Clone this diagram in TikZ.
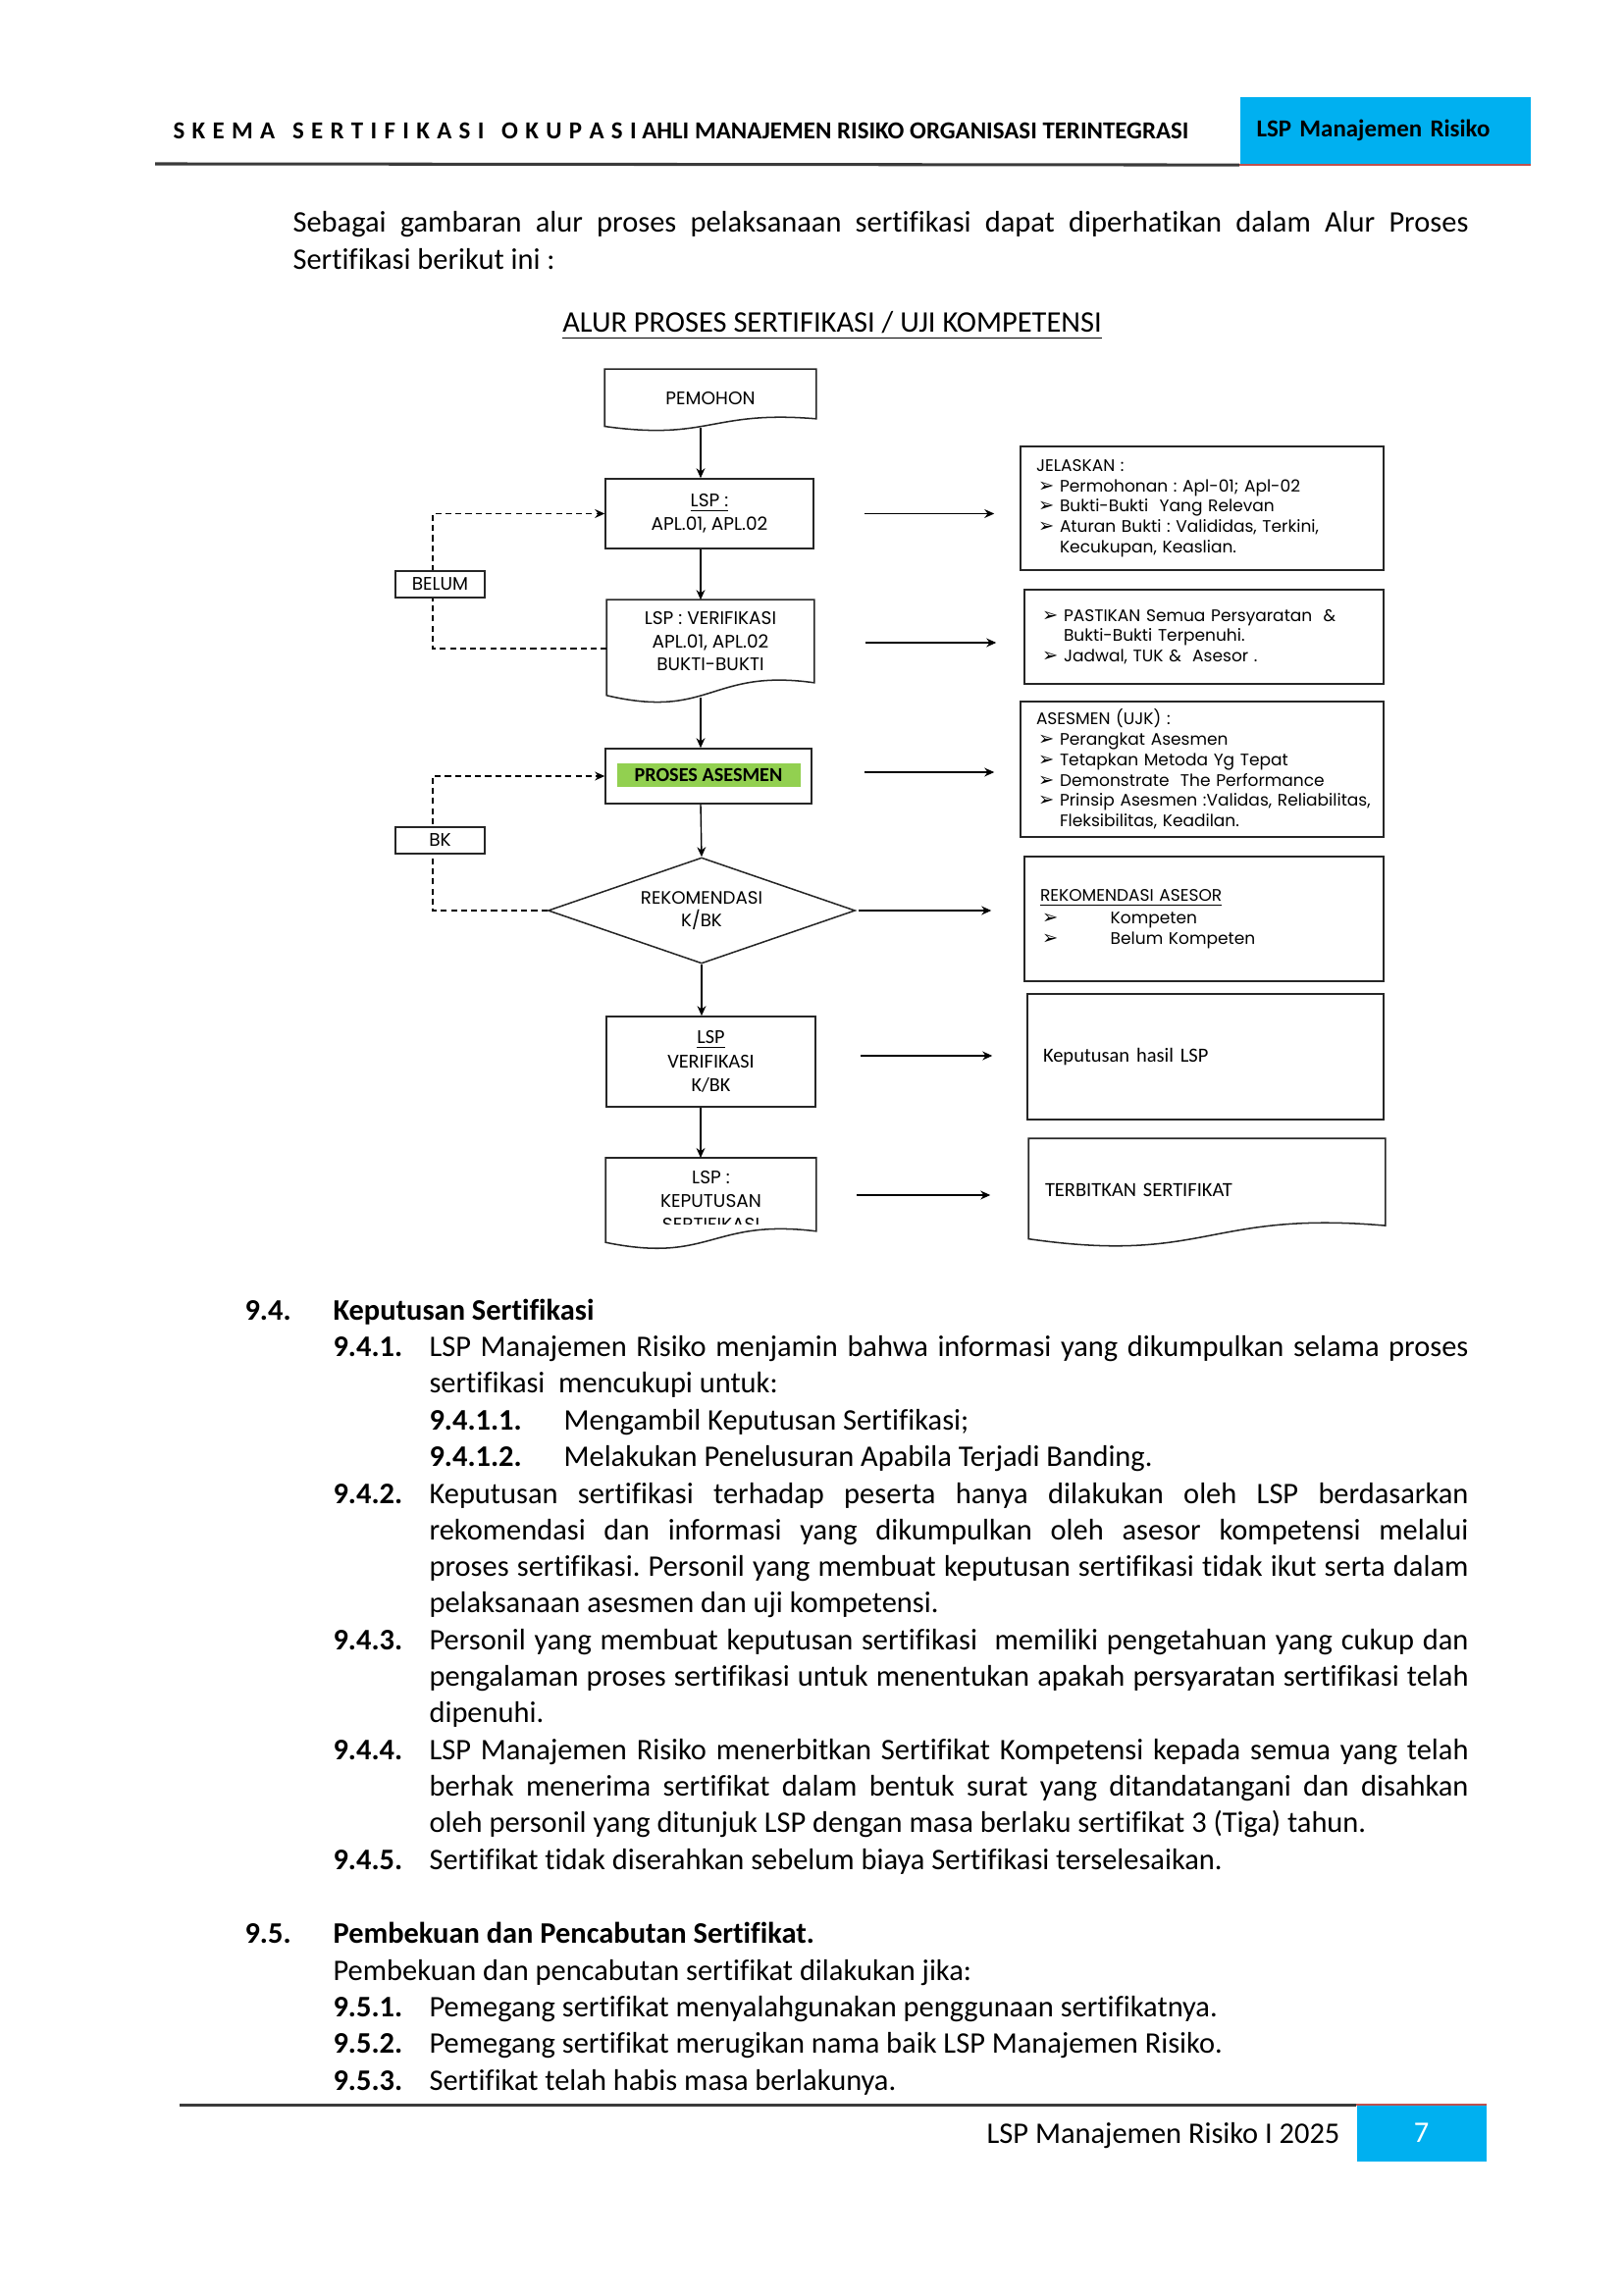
\documentclass[tikz,border=0pt]{standalone}
\usepackage{fontspec}
\setmainfont[Ligatures=NoCommon]{Carlito}
\newfontfamily\gothic{Poppins}
\newfontfamily\dings{DejaVu Sans}
\usetikzlibrary{arrows.meta,positioning,calc,shapes.geometric}
\definecolor{lspblue}{HTML}{00B0F0}
\definecolor{lspgreen}{HTML}{92D050}
\definecolor{lspred}{HTML}{C0504D}
\definecolor{rulegray}{HTML}{3A3A3A}
\newlength{\px}
\setlength{\px}{0.127mm}
\newcommand{\blt}[1][22]{\hspace*{2\px}\makebox[#1\px][l]{\dings\fontsize{7}{5}\selectfont ➢}}
\newcommand{\docline}[1]{%
  \draw[shape line] (#1.north west) -- (#1.north east)
    -- ($(#1.north east)!0.85!(#1.south east)$)
    .. controls ($(#1.north)!0.70!(#1.south)$) and ($(#1.north)!1.23!(#1.south)$)
    .. ($(#1.north west)!0.98!(#1.south west)$) -- cycle;}
\hyphenpenalty=10000
\tolerance=9000
\frenchspacing

\begin{document}
\begin{tikzpicture}[x=0.127mm, y=-0.127mm,
  shape line/.style={draw=black!85, line width=0.55pt},
  stepbox/.style={shape line, minimum width=212\px, align=center, inner sep=0pt, font=\gothic\fontsize{6.7}{8.6}\selectfont},
  docbox/.style={stepbox, draw=none},
  rekbox/.style={shape line, diamond, aspect=2.9, minimum width=313\px, minimum height=108\px, inner sep=0pt, align=center, font=\gothic\fontsize{6.6}{8.3}\selectfont},
  note/.style={shape line, align=left, inner xsep=16\px, inner ysep=0pt, font=\gothic\fontsize{6.15}{7.5}\selectfont},
  tag/.style={shape line, fill=white, minimum width=91\px, minimum height=27\px, inner sep=0pt, font=\gothic\fontsize{6.7}{6.7}\selectfont},
  flow/.style={-{Stealth[length=3.6pt,width=3.2pt]}, line width=0.5pt},
  back/.style={flow, dash pattern=on 2.2pt off 1.5pt},
  para/.style={anchor=base west, inner sep=0pt, align=justify, font=\fontsize{11}{13.45}\selectfont},
  num/.style={anchor=base west, inner sep=0pt, font=\bfseries\fontsize{11}{13.45}\selectfont}]
\useasboundingbox (0,0) rectangle (1654,2339);

\node[anchor=base west, inner sep=0pt, font=\bfseries\fontsize{9}{11}\selectfont] (hdr) at (176,142) {{\spaceskip=2.65pt\relax S K E M A\hspace{6.4pt}S E R T I F I K A S I\hspace{6.4pt}O K U P A S I} AHLI MANAJEMEN RISIKO ORGANISASI TERINTEGRASI};
\node[fill=lspblue, anchor=north west, minimum height=69\px, text width=262\px, inner xsep=17\px, inner ysep=0pt, align=left, font=\bfseries\fontsize{9}{11}\selectfont] (hdrbox) at (1263,98) {LSP Manajemen Risiko};
\coordinate (hdrule) at (158,167);
\draw[rulegray, line width=1.1pt] (hdrule) -- (hdrbox.south west);
\draw[lspred, line width=0.6pt] (hdrbox.south west) -- (hdrbox.south east);

\node[para, text width=1198\px] (intro) at (298,237) {Sebagai gambaran alur proses pelaksanaan sertifikasi dapat diperhatikan dalam Alur Proses\linebreak Sertifikasi berikut ini :};
\node[anchor=base, inner sep=0pt, font=\fontsize{11}{13}\selectfont] (title) at (848,339) {\underline{ALUR PROSES SERTIFIKASI / UJI KOMPETENSI}};

\node[docbox, minimum width=214\px, minimum height=58\px] (pem) at (724,406) {PEMOHON};
\node[stepbox, minimum height=71\px] (lsp) at (723,523.5) {\underline{LSP :}\\APL.01, APL.02};
\node[docbox, minimum width=210\px, minimum height=98\px] (ver) at (724,661) {LSP : VERIFIKASI\\APL.01, APL.02\\BUKTI-BUKTI\\[-9\px]};
\node[stepbox, minimum width=210\px, minimum height=56\px] (pros) at (722,791) {};
\node[fill=lspgreen, minimum width=187\px, minimum height=24\px, inner sep=0pt, font=\bfseries\fontsize{7.3}{8}\selectfont] (asmtag) at (722,790) {PROSES ASESMEN};
\node[rekbox] (rek) at (715,928) {REKOMENDASI\\K/BK};
\node[stepbox, minimum width=213\px, minimum height=92\px, font=\fontsize{7.3}{8.8}\selectfont] (kbk) at (724.5,1082) {\underline{LSP}\\VERIFIKASI\\K/BK};
\node[docbox, minimum width=213\px, minimum height=86.5\px] (kep) at (724.5,1224) {};
\begin{scope}
\clip (kep.north west) rectangle ([yshift=21\px]kep.south east);
\node[docbox, minimum height=0pt] (keptxt) at ([yshift=0\px]kep.center) {LSP :\\KEPUTUSAN\\SERTIFIKASI};
\end{scope}
\docline{pem}
\docline{ver}
\docline{kep}

\coordinate (ax) at (714,0);
\draw[flow] (pem.south -| ax) -- (lsp.north -| ax);
\draw[flow] (lsp.south -| ax) -- (ver.north -| ax);
\draw[flow] (ver.south -| ax) -- (pros.north -| ax);
\draw[flow] (pros.south -| ax) -- (rek.north);
\draw[flow] (rek.south) -- (kbk.north -| rek.south);
\draw[flow] (kbk.south -| ax) -- (kep.north -| ax);

\coordinate (lane) at (441,0);
\draw[back] (ver.west) -- (ver.west -| lane) -- (lsp.west -| lane) -- (lsp.west);
\draw[back] (rek.west) -- (rek.west -| lane) -- (pros.west -| lane) -- (pros.west);
\node[tag] (belum) at (448.5,595.5) {BELUM};
\node[tag] (bk) at (448.5,856.5) {BK};

\node[note, text width=338\px, minimum height=126\px] (r1) at (1225,518) {JELASKAN :\\ \blt Permohonan : Apl-01; Apl-02\\ \blt Bukti-Bukti\ \ Yang Relevan\\ \blt Aturan Bukti : Valididas, Terkini,\\ \hspace*{24\px}Kecukupan, Keaslian.\\[-20\px]};
\node[note, text width=334\px, minimum height=96\px] (r2) at (1227,649) {\blt PASTIKAN Semua Persyaratan\ \ \&\\ \hspace*{24\px}Bukti-Bukti Terpenuhi.\\ \blt Jadwal, TUK \&\ \ Asesor .};
\node[note, text width=338\px, minimum height=138\px] (r3) at (1225,784) {ASESMEN (UJK) :\\ \blt Perangkat Asesmen\\ \blt Tetapkan Metoda Yg Tepat\\ \blt Demonstrate\ \ The Performance\\ \mbox{\blt Prinsip Asesmen :Validas, Reliabilitas,}\\ \hspace*{24\px}Fleksibilitas, Keadilan.};
\node[note, text width=334\px, minimum height=127\px] (r4) at (1227,936.5) {\underline{REKOMENDASI ASESOR}\\[1pt] \blt[64] Kompeten\\ \blt[64] Belum Kompeten};
\node[note, text width=331\px, minimum height=128\px, font=\fontsize{7.4}{8}\selectfont] (r5) at (1228.5,1077) {Keputusan hasil LSP};
\node[note, draw=none, text width=330\px, minimum height=103\px, font=\fontsize{7.4}{8}\selectfont] (r6) at (1230,1212.5) {TERBITKAN SERTIFIKAT\\[-17\px]};
\docline{r6}

\draw[flow, shorten <=51\px, shorten >=26\px] (lsp.east) -- (lsp.east -| r1.west);
\draw[flow, shorten <=52\px, shorten >=28\px] ([yshift=6\px]ver.east) -- ([yshift=6\px]ver.east -| r2.west);
\draw[flow, shorten <=53\px, shorten >=26\px] ([yshift=4\px]pros.east) -- ([yshift=4\px]pros.east -| r3.west);
\draw[flow, shorten <=3\px, shorten >=33\px] (rek.east) -- (rek.east -| r4.west);
\draw[flow, shorten <=45\px, shorten >=35\px] ([yshift=6\px]kbk.east) -- ([yshift=6\px]kbk.east -| r5.west);
\draw[flow, shorten <=41\px, shorten >=39\px] ([yshift=6\px]kep.east) -- ([yshift=6\px]kep.east -| r6.west);

\node[num] (s94) at (249,1345) {9.4.};
\node[num] (s94t) at (339,1345) {Keputusan Sertifikasi};
\node[num] (n941) at (339,1382) {9.4.1.};
\node[para, text width=1059\px] (p941) at (437,1382) {LSP Manajemen Risiko menjamin bahwa informasi yang dikumpulkan selama proses\linebreak sertifikasi\ \ mencukupi untuk:};
\node[num] (n9411) at (437,1457) {9.4.1.1.};
\node[para] (p9411) at (574,1457) {Mengambil Keputusan Sertifikasi;};
\node[num] (n9412) at (437,1494) {9.4.1.2.};
\node[para] (p9412) at (574,1494) {Melakukan Penelusuran Apabila Terjadi Banding.};
\node[num] (n942) at (339,1532) {9.4.2.};
\node[para, text width=1059\px] (p942) at (437,1532) {Keputusan sertifikasi terhadap peserta hanya dilakukan oleh LSP berdasarkan\linebreak rekomendasi dan informasi yang dikumpulkan oleh asesor kompetensi melalui\linebreak proses sertifikasi. Personil yang membuat keputusan sertifikasi tidak ikut serta dalam\linebreak pelaksanaan asesmen dan uji kompetensi.};
\node[num] (n943) at (339,1681) {9.4.3.};
\node[para, text width=1059\px] (p943) at (437,1681) {Personil yang membuat keputusan sertifikasi\ \ memiliki pengetahuan yang cukup dan\linebreak pengalaman proses sertifikasi untuk menentukan apakah persyaratan sertifikasi telah\linebreak dipenuhi.};
\node[num] (n944) at (339,1793) {9.4.4.};
\node[para, text width=1059\px] (p944) at (437,1793) {LSP Manajemen Risiko menerbitkan Sertifikat Kompetensi kepada semua yang telah\linebreak berhak menerima sertifikat dalam bentuk surat yang ditandatangani dan disahkan\linebreak oleh personil yang ditunjuk LSP dengan masa berlaku sertifikat 3 (Tiga) tahun.};
\node[num] (n945) at (339,1905) {9.4.5.};
\node[para] (p945) at (437,1905) {Sertifikat tidak diserahkan sebelum biaya Sertifikasi terselesaikan.};

\node[num] (s95) at (249,1980) {9.5.};
\node[num] (s95t) at (339,1980) {Pembekuan dan Pencabutan Sertifikat.};
\node[para] (p95) at (339,2018) {Pembekuan dan pencabutan sertifikat dilakukan jika:};
\node[num] (n951) at (339,2055) {9.5.1.};
\node[para] (p951) at (437,2055) {Pemegang sertifikat menyalahgunakan penggunaan sertifikatnya.};
\node[num] (n952) at (339,2092) {9.5.2.};
\node[para] (p952) at (437,2092) {Pemegang sertifikat merugikan nama baik LSP Manajemen Risiko.};
\node[num] (n953) at (339,2130) {9.5.3.};
\node[para] (p953) at (437,2130) {Sertifikat telah habis masa berlakunya.};

\node[fill=lspblue, anchor=north west, minimum width=132\px, minimum height=57\px, inner sep=0pt, text=white, font=\fontsize{11}{13}\selectfont] (pagebox) at (1382,2145) {7};
\coordinate (ftrule) at (183,2145);
\draw[rulegray, line width=1.1pt] (ftrule) -- (pagebox.north west);
\draw[lspred, line width=0.6pt] (pagebox.north west) -- (pagebox.north east);
\node[anchor=base east, inner sep=0pt, font=\fontsize{11}{13}\selectfont] (ftr) at (1366,2184) {LSP Manajemen Risiko I 2025};
\end{tikzpicture}
\end{document}
